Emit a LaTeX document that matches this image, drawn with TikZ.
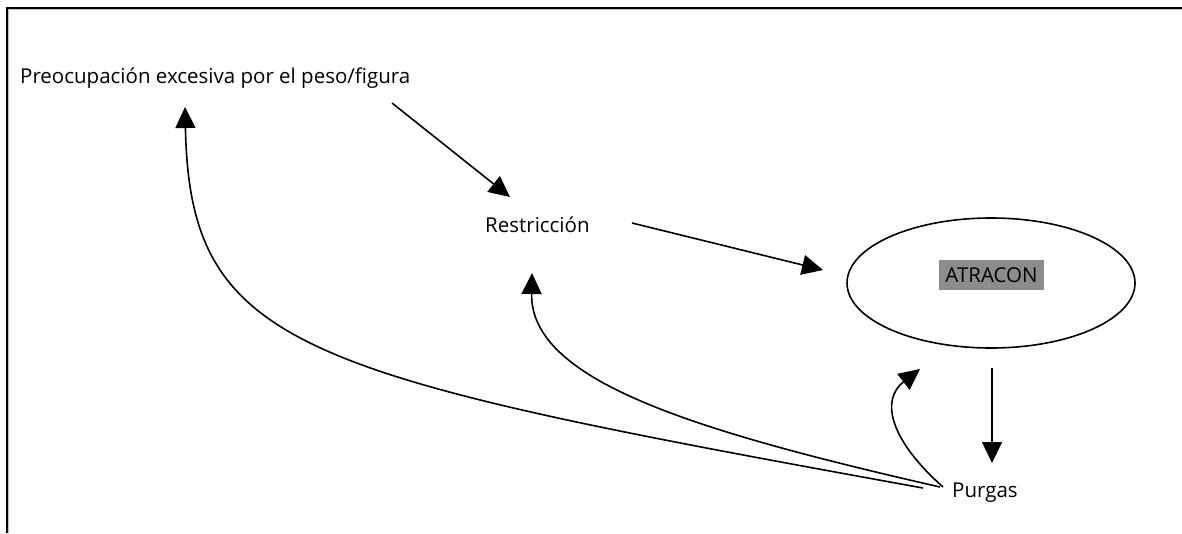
\documentclass[tikz,border=0pt]{standalone}
\usepackage{fontspec}
\setmainfont{Open Sans}
\usetikzlibrary{arrows.meta,shapes.geometric}
\begin{document}
\begin{tikzpicture}[x=1pt,y=-1pt,
 conn/.style={line width=1.6pt,-{Triangle[length=21pt,width=20pt]}},
 lbl/.style={font=\fontsize{20.5}{24}\selectfont,inner sep=0pt}]
\useasboundingbox (0,0) rectangle (1182,533);
% frame (top and left edges only)
\draw[black!25,line width=0.8pt] (8.6,533) -- (8.6,9) -- (1182,9);
\draw[line width=2pt] (7,533) -- (7,7.5) -- (1182,7.5);
% nodes
\node[lbl,anchor=base west] (pre) at (20,83) {Preocupación excesiva por el peso/figura};
\node[lbl,anchor=base west] (res) at (485,232) {Restricción};
\node[draw,line width=1.6pt,ellipse,minimum width=288pt,minimum height=130pt] (atr) at (991,283) {};
\node[lbl,fill=black!45,minimum width=105pt,minimum height=30pt] (atrl) at (991.5,275) {ATRACON};
\node[lbl,anchor=base west] (pur) at (952,497) {Purgas};
% connector end points
\coordinate (preOut) at (392,103);
\coordinate (resIn) at (510,197);
\coordinate (resOut) at (632,223);
\coordinate (atrIn) at (823,270);
\coordinate (atrOut) at (992,368);
\coordinate (purIn) at (992,463);
\coordinate (purA) at (923,488);
\coordinate (purB) at (940,487);
\coordinate (purC) at (943,487);
\coordinate (preIn) at (185,107);
\coordinate (resIn2) at (532,273);
\coordinate (atrIn2) at (920,369);
% connectors
\draw[conn] (preOut) -- (resIn);
\draw[conn] (resOut) -- (atrIn);
\draw[conn] (atrOut) -- (purIn);
\draw[conn] (purA) .. controls (300,375) and (190,350) .. (preIn);
\draw[conn] (purB) .. controls (690,430) and (530,380) .. (resIn2);
\draw[conn] (purC) .. controls (890,440) and (880,400) .. (atrIn2);
\end{tikzpicture}
\end{document}
